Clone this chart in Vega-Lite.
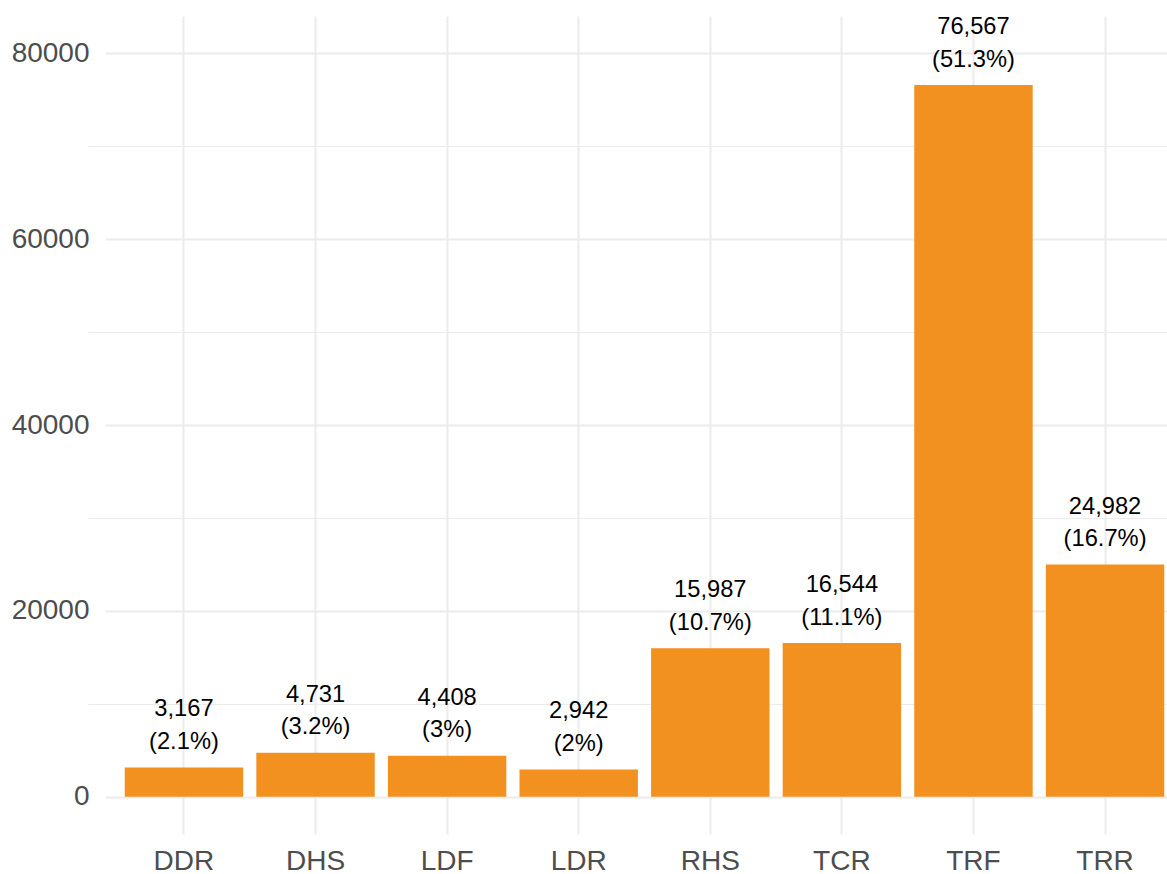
{
  "$schema": "https://vega.github.io/schema/vega-lite/v6.json",
  "autosize": {"type": "none"},
  "padding": {"left": 105, "top": 16, "right": 0, "bottom": 40},
  "width": 1062,
  "height": 818,
  "background": "white",
  "config": {"view": {"stroke": null}, "font": "Liberation Sans"},
  "data": {
    "values": [
      {"category": "DDR", "count": 3167, "label": "3,167\n(2.1%)"},
      {"category": "DHS", "count": 4731, "label": "4,731\n(3.2%)"},
      {"category": "LDF", "count": 4408, "label": "4,408\n(3%)"},
      {"category": "LDR", "count": 2942, "label": "2,942\n(2%)"},
      {"category": "RHS", "count": 15987, "label": "15,987\n(10.7%)"},
      {"category": "TCR", "count": 16544, "label": "16,544\n(11.1%)"},
      {"category": "TRF", "count": 76567, "label": "76,567\n(51.3%)"},
      {"category": "TRR", "count": 24982, "label": "24,982\n(16.7%)"}
    ]
  },
  "encoding": {
    "x": {
      "field": "category",
      "type": "nominal",
      "sort": null,
      "title": null,
      "scale": {"range": [0, 1079], "paddingInner": 0.1, "paddingOuter": 0.15},
      "axis": {
        "bandPosition": 0.5,
        "domain": false,
        "ticks": false,
        "tickSize": 0,
        "labelPadding": 13,
        "labelFontSize": 28,
        "labelColor": "#4D4D4D",
        "labelAngle": 0,
        "grid": true,
        "gridColor": "#EBEBEB",
        "gridWidth": 2
      }
    }
  },
  "layer": [
    {
      "mark": {"type": "bar", "color": "#F2911F"},
      "encoding": {
        "y": {
          "field": "count",
          "type": "quantitative",
          "title": null,
          "scale": {"domain": [-4000, 84000], "nice": false, "zero": false},
          "axis": {
            "values": [0, 20000, 40000, 60000, 80000],
            "format": "d",
            "domain": false,
            "ticks": false,
            "tickSize": 0,
            "labelPadding": 16,
            "labelFontSize": 28,
            "labelColor": "#4D4D4D",
            "grid": true,
            "gridColor": "#EBEBEB",
            "gridWidth": 2
          }
        }
      }
    },
    {
      "mark": {
        "type": "text",
        "lineBreak": "\n",
        "baseline": "bottom",
        "align": "center",
        "fontSize": 23.7,
        "lineHeight": 32.6,
        "dy": -46,
        "color": "black"
      },
      "encoding": {
        "y": {
          "field": "count",
          "type": "quantitative",
          "axis": {
            "values": [10000, 30000, 50000, 70000],
            "labels": false,
            "domain": false,
            "ticks": false,
            "tickSize": 0,
            "grid": true,
            "gridColor": "#EBEBEB",
            "gridWidth": 1,
            "title": null
          }
        },
        "text": {"field": "label"}
      }
    }
  ],
  "resolve": {"axis": {"y": "independent"}}
}
